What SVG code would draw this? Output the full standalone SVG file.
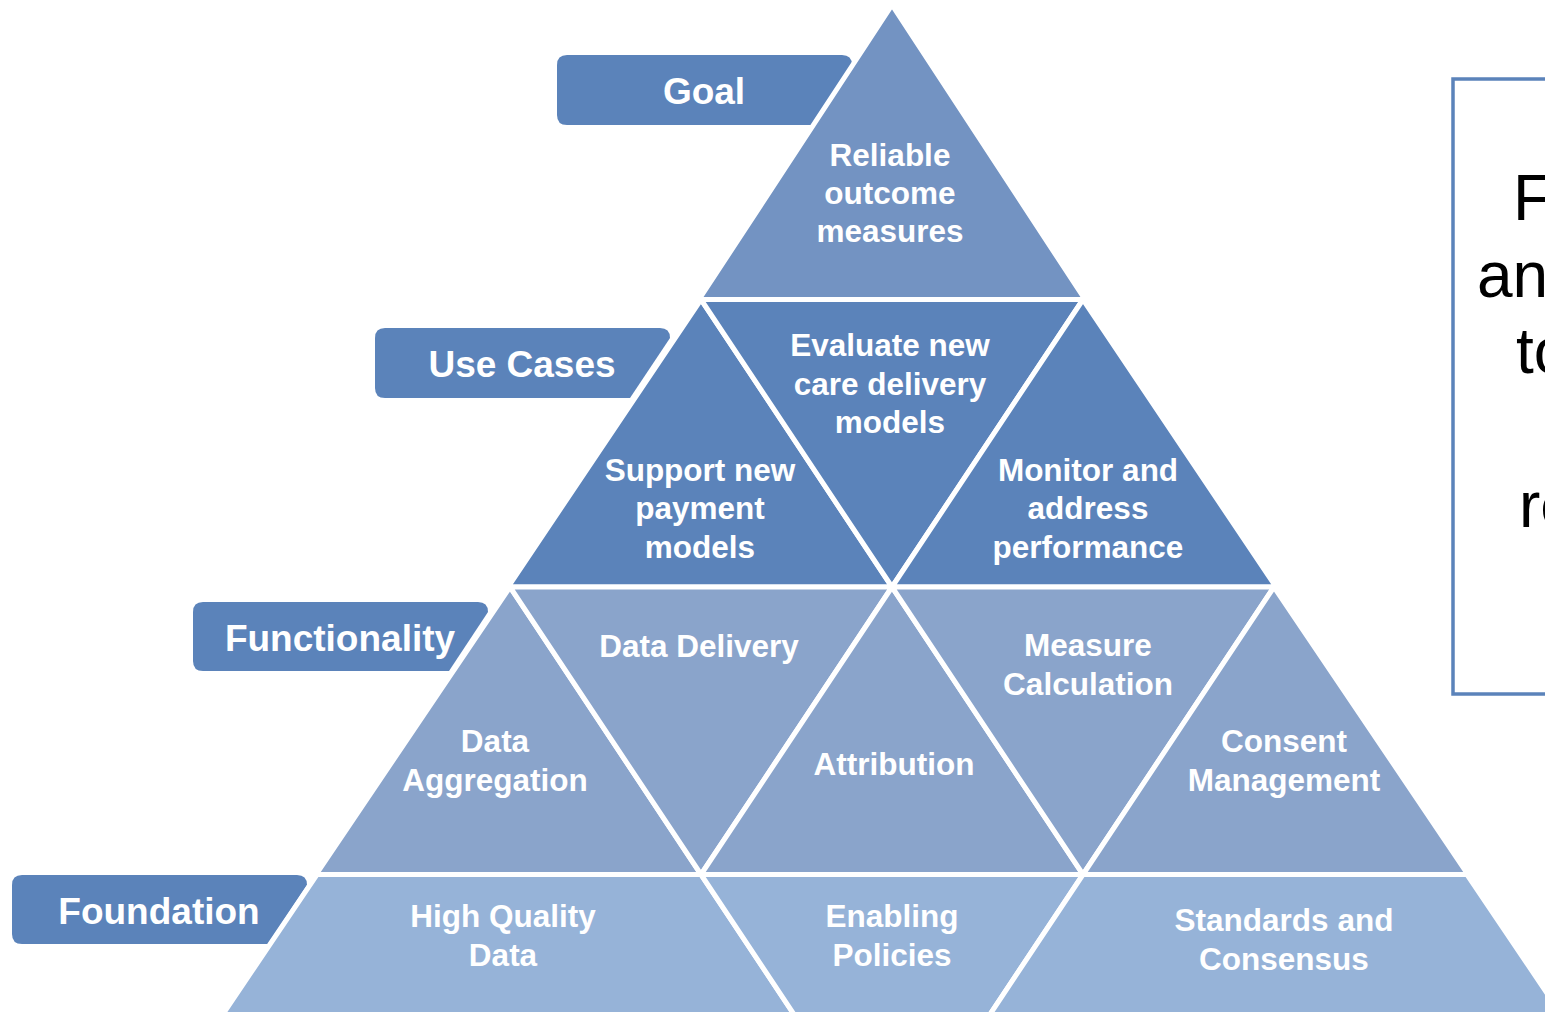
<svg xmlns="http://www.w3.org/2000/svg" width="1545" height="1012" viewBox="0 0 1545 1012">
<style>
.tab{fill:#5B83BA}
.tl{font-family:"Liberation Sans",Arial,sans-serif;font-weight:bold;font-size:37px;fill:#fff;text-anchor:middle}
.cell{stroke:#fff;stroke-width:5;stroke-linejoin:miter}
.r1{fill:#7393C2}
.r2{fill:#5B83BA}
.r3{fill:#8AA4CB}
.r4{fill:#96B3D8}
.ct{font-family:"Liberation Sans",Arial,sans-serif;font-weight:bold;font-size:31.5px;fill:#fff;text-anchor:middle}
.bt{font-family:"Liberation Sans",Arial,sans-serif;font-size:64px;fill:#000}
</style>
<rect width="1545" height="1012" fill="#fff"/>

<g id="tab-goal">
<path class="tab" d="M567,55 H842 Q852,55 852,65 V71 L817,125 H567 Q557,125 557,115 V65 Q557,55 567,55 Z"/>
<text class="tl" x="704" y="104">Goal</text>
</g>
<g id="tab-usecases">
<path class="tab" d="M385,328 H660 Q670,328 670,338 L630,398 H385 Q375,398 375,388 V338 Q375,328 385,328 Z"/>
<text class="tl" x="522" y="377">Use Cases</text>
</g>
<g id="tab-functionality">
<path class="tab" d="M203,602 H478 Q488,602 488,612 L449,671 H203 Q193,671 193,661 V612 Q193,602 203,602 Z"/>
<text class="tl" x="340" y="651">Functionality</text>
</g>
<g id="tab-foundation">
<path class="tab" d="M22,875 H297 Q307,875 307,885 L268,944 H22 Q12,944 12,934 V885 Q12,875 22,875 Z"/>
<text class="tl" x="159" y="924">Foundation</text>
</g>

<g id="goal-reliable">
<polygon class="cell r1" points="892,5 699,299.5 1085,299.5"/>
<text class="ct" x="890" y="166">Reliable</text>
<text class="ct" x="890" y="204">outcome</text>
<text class="ct" x="890" y="242">measures</text>
</g>

<g id="uc-support">
<polygon class="cell r2" points="701,299.5 508,587 892,587"/>
<text class="ct" x="700" y="481">Support new</text>
<text class="ct" x="700" y="519">payment</text>
<text class="ct" x="700" y="558">models</text>
</g>
<g id="uc-evaluate">
<polygon class="cell r2" points="701,299.5 1083,299.5 892,587"/>
<text class="ct" x="890" y="356">Evaluate new</text>
<text class="ct" x="890" y="395">care delivery</text>
<text class="ct" x="890" y="433">models</text>
</g>
<g id="uc-monitor">
<polygon class="cell r2" points="1083,299.5 892,587 1276,587"/>
<text class="ct" x="1088" y="481">Monitor and</text>
<text class="ct" x="1088" y="519">address</text>
<text class="ct" x="1088" y="558">performance</text>
</g>

<g id="fn-aggregation">
<polygon class="cell r3" points="510,587 316,874.5 701,874.5"/>
<text class="ct" x="495" y="752">Data</text>
<text class="ct" x="495" y="791">Aggregation</text>
</g>
<g id="fn-delivery">
<polygon class="cell r3" points="510,587 892,587 701,874.5"/>
<text class="ct" x="699" y="657">Data Delivery</text>
</g>
<g id="fn-attribution">
<polygon class="cell r3" points="892,587 701,874.5 1083,874.5"/>
<text class="ct" x="894" y="775">Attribution</text>
</g>
<g id="fn-measure">
<polygon class="cell r3" points="892,587 1274,587 1083,874.5"/>
<text class="ct" x="1088" y="656">Measure</text>
<text class="ct" x="1088" y="695">Calculation</text>
</g>
<g id="fn-consent">
<polygon class="cell r3" points="1274,587 1083,874.5 1468,874.5"/>
<text class="ct" x="1284" y="752">Consent</text>
<text class="ct" x="1284" y="791">Management</text>
</g>

<g id="fd-quality">
<polygon class="cell r4" points="317,874.5 701,874.5 797.7,1020 219,1020"/>
<text class="ct" x="503" y="927">High Quality</text>
<text class="ct" x="503" y="966">Data</text>
</g>
<g id="fd-policies">
<polygon class="cell r4" points="701,874.5 1083,874.5 986.3,1020 797.7,1020"/>
<text class="ct" x="892" y="927">Enabling</text>
<text class="ct" x="892" y="966">Policies</text>
</g>
<g id="fd-standards">
<polygon class="cell r4" points="1083,874.5 1467,874.5 1565,1020 986.3,1020"/>
<text class="ct" x="1284" y="931">Standards and</text>
<text class="ct" x="1284" y="970">Consensus</text>
</g>

<g id="connectors"></g>

<g id="side-box">
<rect x="1453" y="79" width="200" height="615" fill="none" stroke="#5B83BA" stroke-width="3.5"/>
<text class="bt" x="1513" y="220">F</text>
<text class="bt" x="1477" y="297">an</text>
<text class="bt" x="1516" y="373">to</text>
<text class="bt" x="1519" y="527">re</text>
</g>
</svg>
